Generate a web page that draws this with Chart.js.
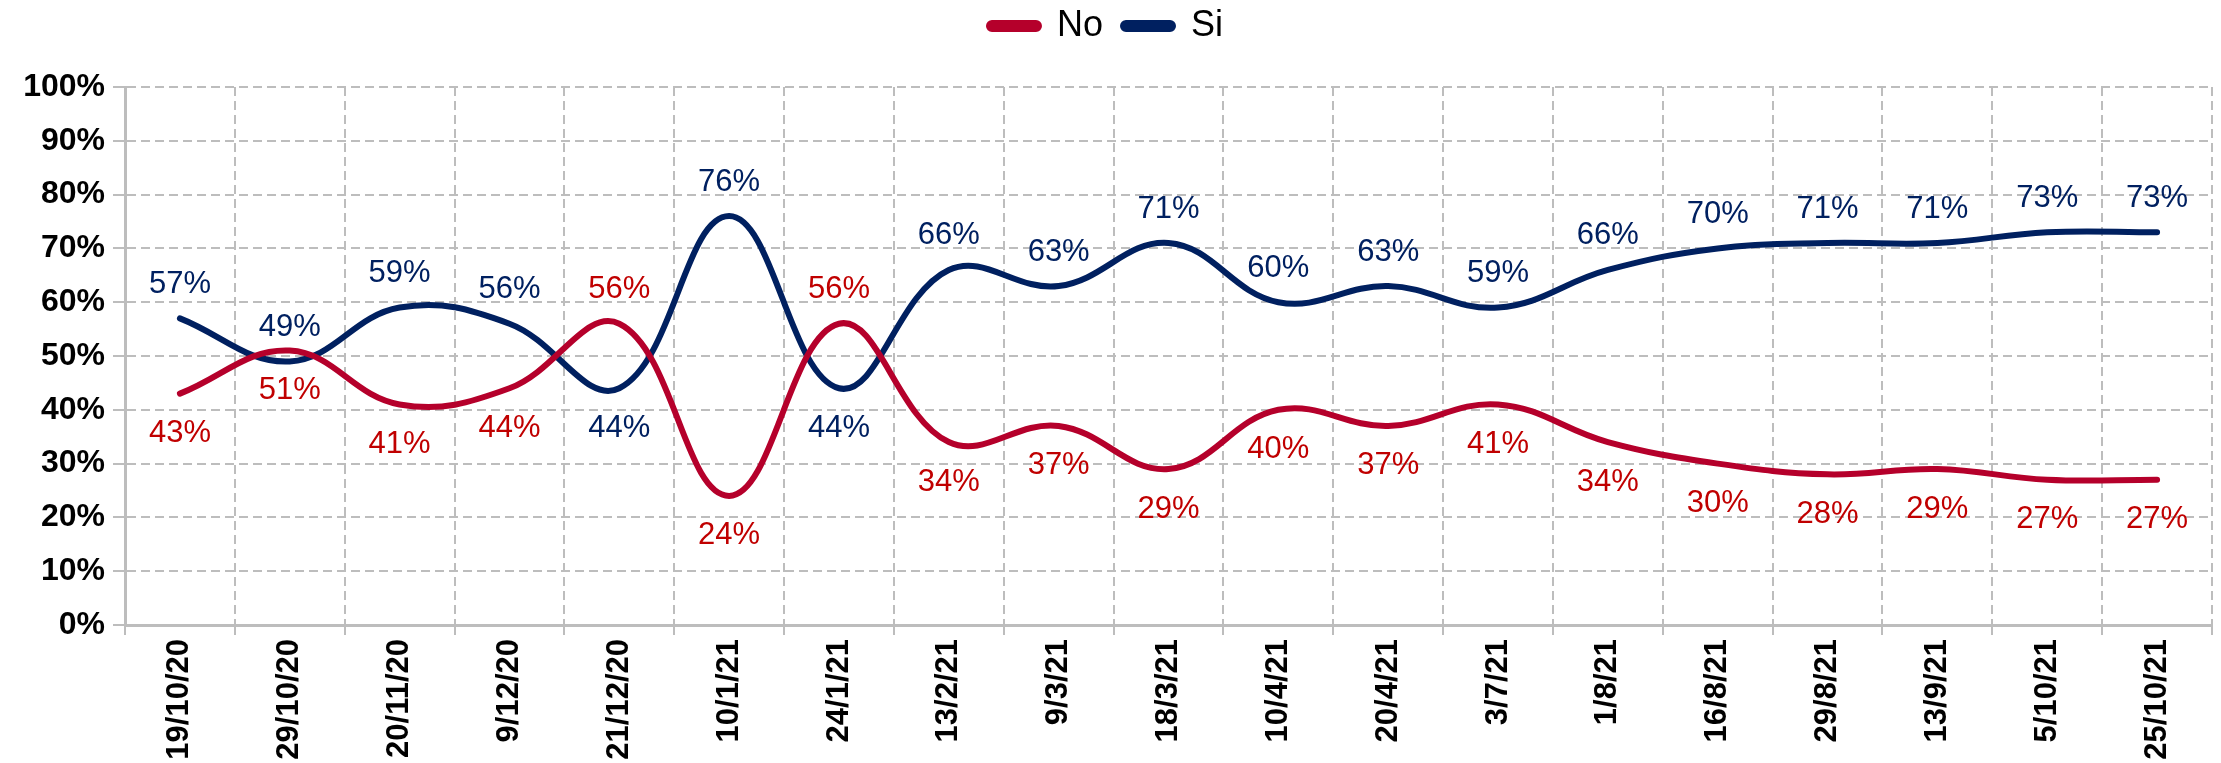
<!DOCTYPE html>
<html>
<head>
<meta charset="utf-8">
<script src="https://cdn.jsdelivr.net/npm/chart.js@4/dist/chart.umd.min.js"></script>
<style>
  html, body { margin: 0; padding: 0; background: #fff; }
  #wrap { width: 2221px; height: 763px; }
</style>
</head>
<body>
<div id="wrap"><canvas id="chart"></canvas></div>
<script>
// data
const labels = [
  "19/10/20", "29/10/20", "20/11/20", "9/12/20", "21/12/20", "10/1/21",
  "24/1/21", "13/2/21", "9/3/21", "18/3/21", "10/4/21", "20/4/21",
  "3/7/21", "1/8/21", "16/8/21", "29/8/21", "13/9/21", "5/10/21", "25/10/21"
];
const noValues = [43, 51, 41, 44, 56, 24, 56, 34, 37, 29, 40, 37, 41, 34, 30, 28, 29, 27, 27];
const siValues = [57, 49, 59, 56, 44, 76, 44, 66, 63, 71, 60, 63, 59, 66, 70, 71, 71, 73, 73];
const yTicks = [0, 10, 20, 30, 40, 50, 60, 70, 80, 90, 100];

const RED = "#B5002B";
const RED_TXT = "#C00000";
const NAVY = "#002060";
const GRID = "#BDBDBD";
const FONT = "'Liberation Sans', Arial, sans-serif";

// value labels like Excel's: Si above, No below, flipped where No is clearly higher
const valueLabels = {
  id: "valueLabels",
  afterDatasetsDraw(chart) {
    const ctx = chart.ctx;
    ctx.save();
    ctx.font = "31px " + FONT;
    ctx.textAlign = "center";
    ctx.textBaseline = "middle";
    chart.data.datasets.forEach((ds, di) => {
      const meta = chart.getDatasetMeta(di);
      const other = chart.data.datasets[1 - di].data;
      meta.data.forEach((pt, i) => {
        const v = ds.data[i];
        const diff = ds.key === "si" ? other[i] - v : v - other[i];
        let above = diff > 5;
        if (ds.key === "si") above = !above;
        ctx.fillStyle = ds.labelColor;
        ctx.fillText(v + "%", pt.x, pt.y + (above ? -34 : 40));
      });
    });
    ctx.restore();
  }
};

// extra room under the legend
const legendGap = {
  id: "legendGap",
  beforeInit(chart) {
    const fit = chart.legend.fit;
    chart.legend.fit = function () {
      fit.call(this);
      this.height += 33;
    };
  }
};

new Chart(document.getElementById("chart"), {
  type: "line",
  data: {
    labels: labels,
    datasets: [
      {
        key: "no",
        label: "No",
        data: noValues,
        borderColor: RED,
        backgroundColor: RED,
        labelColor: RED_TXT,
        borderWidth: 6,
        pointRadius: 0,
        tension: 0.4,
        borderCapStyle: "round",
      },
      {
        key: "si",
        label: "Si",
        data: siValues,
        borderColor: NAVY,
        backgroundColor: NAVY,
        labelColor: NAVY,
        borderWidth: 6,
        pointRadius: 0,
        tension: 0.4,
        borderCapStyle: "round",
      },
    ],
  },
  options: {
    responsive: true,
    maintainAspectRatio: false,
    animation: false,
    layout: { padding: { left: 0, right: 9, top: -12, bottom: 0 } },
    plugins: {
      tooltip: { enabled: false },
      legend: {
        position: "top",
        labels: {
          color: "#000",
          font: { family: FONT, size: 36 },
          boxWidth: 50,
          boxHeight: 6,
          useBorderRadius: true,
          borderRadius: 3,
          padding: 20,
        },
      },
    },
    scales: {
      x: {
        offset: true,
        grid: {
          offset: true,
          color: GRID,
          lineWidth: 2,
          tickLength: 10,
        },
        border: { display: true, color: GRID, width: 3, dash: [9, 5] },
        ticks: {
          color: "#000",
          font: { family: FONT, size: 31, weight: "bold" },
          minRotation: 90,
          maxRotation: 90,
          padding: 4,
        },
        afterFit(scale) { scale.height = 138; },
      },
      y: {
        min: 0,
        max: 100,
        afterBuildTicks(scale) { scale.ticks = yTicks.map((v) => ({ value: v })); },
        grid: {
          color: GRID,
          lineWidth: 2,
          tickLength: 12,
        },
        border: { display: true, color: GRID, width: 3, dash: [9, 5] },
        ticks: {
          color: "#000",
          font: { family: FONT, size: 32, weight: "bold" },
          padding: 8,
          callback: (v) => v + "%",
        },
        afterFit(scale) { scale.width = 125; },
      },
    },
  },
  plugins: [valueLabels, legendGap],
});
</script>
</body>
</html>
